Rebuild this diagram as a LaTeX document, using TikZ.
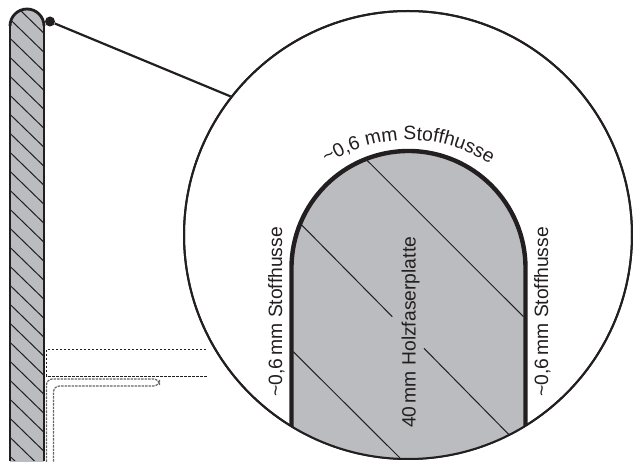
\documentclass[tikz,border=0pt]{standalone}
\usepackage{xcolor}
\usepackage{fontspec}
\setmainfont{Liberation Sans}
\usetikzlibrary{decorations.text}
\definecolor{boardgrey}{HTML}{BBBCBF}
\definecolor{inkblack}{HTML}{231F20}
\tikzset{
  label text/.style={rotate=90,anchor=base west,inner sep=0pt,text=inkblack,font=\fontsize{19.3}{21}\selectfont},
  thin dash/.style={inkblack,line width=0.8pt,dash pattern=on 2.5pt off 1.5pt},
  grey dash/.style={black!60,line width=1.2pt,dash pattern=on 2.5pt off 1pt}
}
\begin{document}
\begin{tikzpicture}[x=1pt,y=-1pt]
\useasboundingbox (0,0) rectangle (633,462);

% small board at the left edge
\fill[boardgrey] (10,462) -- (10,26) arc[start angle=180,end angle=0,radius=17pt] -- (44,462) -- cycle;
\begin{scope}
\clip (10,461) -- (10,26) arc[start angle=180,end angle=0,radius=17pt] -- (44,461) -- cycle;
\foreach \y in {0,...,24}
  \draw[inkblack,line width=1pt] (10,0.3+19*\y) -- ++(34,33);
\end{scope}
\draw[inkblack,line width=1.4pt] (10,461) -- (10,26);
\draw[inkblack,line width=1.4pt] (44,461) -- (44,26);
\draw[inkblack,line width=2.8pt] (10,26) arc[start angle=180,end angle=0,radius=17pt];

% dashed parts behind the board
\draw[thin dash] (206,349.5) -- (46.5,349.5) -- (46.5,376.5) -- (208,376.5);
\draw[grey dash,rounded corners=6pt] (46.5,462) -- (46.5,379) -- (159.5,379) -- (159.5,386) -- (53.5,386) -- (53.5,462);

% magnifier
\node (lens) at (408,235)[draw=inkblack,fill=white,shape=circle,line width=2pt,inner sep=0pt,minimum size=448pt]{};
\node (dot) at (50,21.5)[fill=inkblack,shape=circle,inner sep=0pt,minimum size=10pt]{};
\draw[inkblack,line width=2.2pt] (dot) -- (lens.142);

% big board
\begin{scope}
\clip (408,235) circle[radius=224pt];
\fill[boardgrey] (291.5,470) -- (291.5,268) arc[start angle=180,end angle=0,radius=117pt] -- (525.5,470) -- cycle;
\draw[inkblack,line width=1pt] (366.7,160) -- (523.5,316.7);
\draw[inkblack,line width=1pt] (301.7,225) -- (392.3,316.7);
\draw[inkblack,line width=1pt] (424,348.3) -- (509.3,435);
\draw[inkblack,line width=1pt] (293.3,351.7) -- (400,458);
\draw[inkblack,line width=4.4pt] (291.5,470) -- (291.5,268) arc[start angle=180,end angle=0,radius=117pt] -- (525.5,470);
\end{scope}
\draw[inkblack,line width=2pt] (lens.center) circle[radius=224pt];

% labels
\node (labelleft) at (282,397)[label text]{\textasciitilde 0,6\,mm Stoffhusse};
\node (labelright) at (548,397)[label text]{\textasciitilde 0,6\,mm Stoffhusse};
\node (labelboard) at (415.5,428)[label text]{40\,mm Holzfaserplatte};
\path[decorate,decoration={text along path,text align=center,
  text={|\fontsize{19.3}{21}\selectfont\color{inkblack}|{\textasciitilde}0,6 mm Stoffhusse}}]
  (320.3,168.6) arc[start angle=126,end angle=54,radius=150pt];
\end{tikzpicture}
\end{document}
